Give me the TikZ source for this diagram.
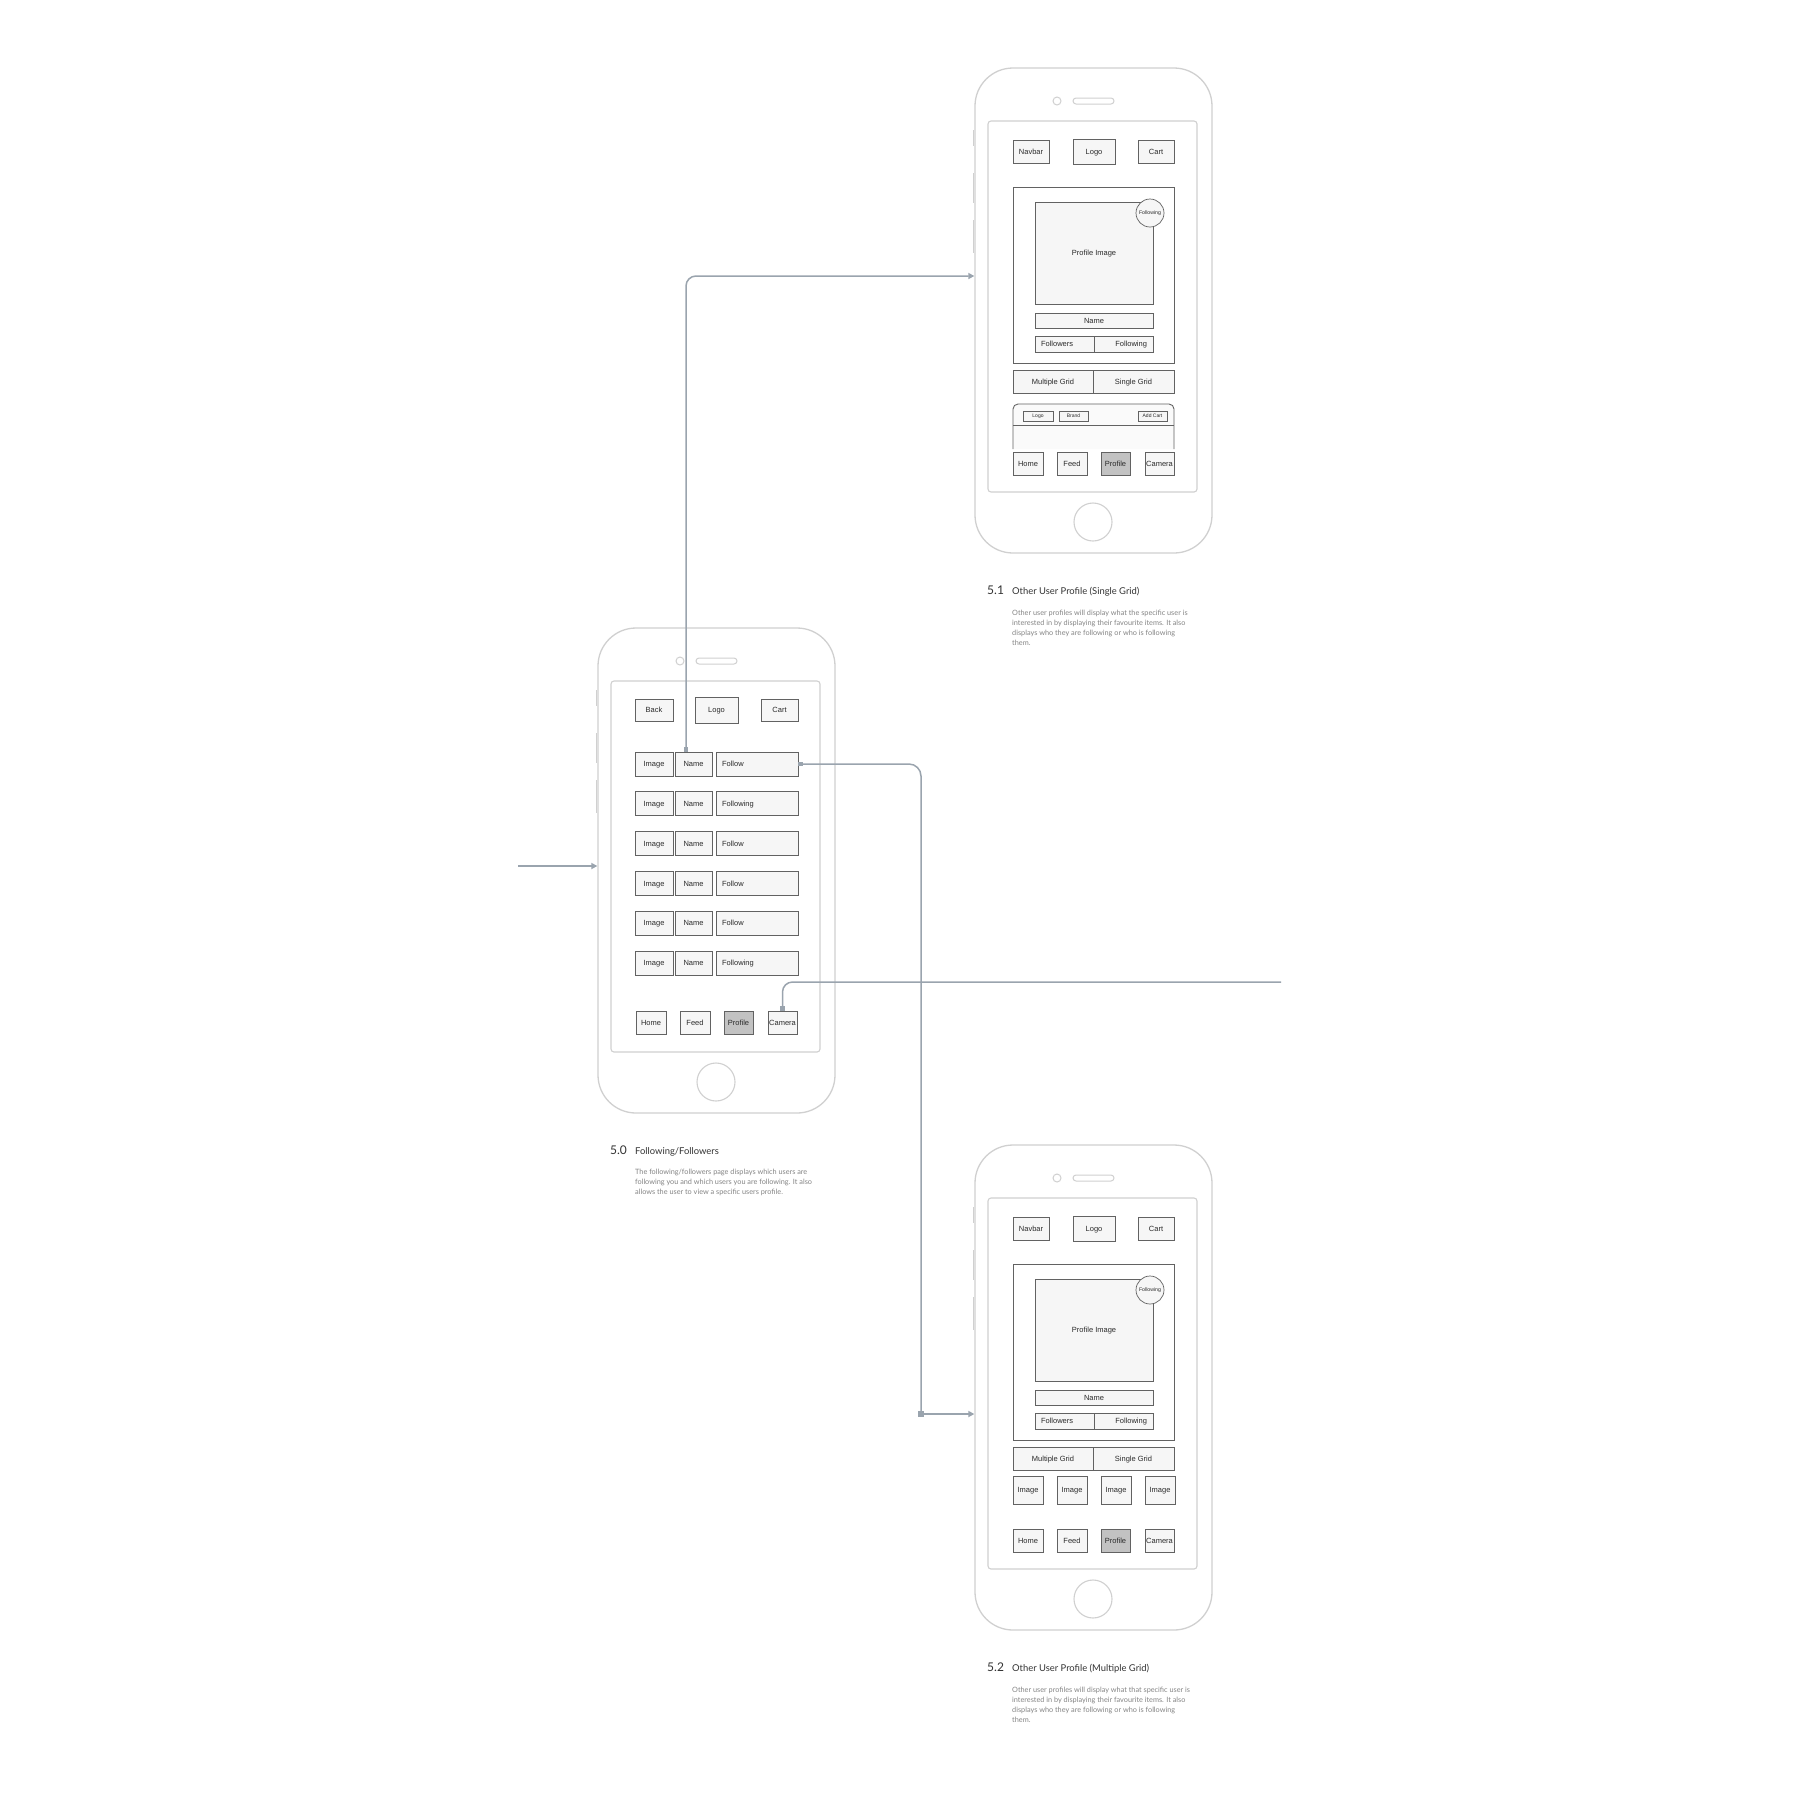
\documentclass[tikz,border=0pt]{standalone}
\usepackage{fontspec}
\setmainfont{Liberation Sans}
\newfontfamily\titlefont{Lato}
\usetikzlibrary{arrows.meta}
\definecolor{framec}{HTML}{D0D0D0}
\definecolor{boxline}{HTML}{626262}
\definecolor{boxfill}{HTML}{F6F6F6}
\definecolor{cardfill}{HTML}{FAFAFA}
\definecolor{tabsel}{HTML}{C2C2C2}
\definecolor{connc}{HTML}{9AA4AE}
\definecolor{descc}{HTML}{858585}
\definecolor{ttlc}{HTML}{333333}
\definecolor{txtc}{HTML}{2A2A2A}

\tikzset{
  wbox/.style={draw=boxline, fill=boxfill, line width=0.9pt, inner sep=0pt, rectangle,
    text=txtc, font=\fontsize{7.5}{9}\selectfont, text height=6pt, text depth=0.6pt},
  smallbox/.style={wbox, line width=0.7pt, font=\fontsize{5}{6}\selectfont, text height=4pt, text depth=0.3pt},
  phoneouter/.style={draw=framec, line width=1.3pt, rounded corners=38pt, minimum width=237pt, minimum height=485pt, inner sep=0pt},
  screenbox/.style={draw=framec, line width=1.1pt, rounded corners=3pt, minimum width=209pt, minimum height=371pt, inner sep=0pt},
  conn/.style={draw=connc, line width=1.5pt},
  sqmark/.style={fill=connc, minimum size=6pt, inner sep=0pt},
  ttlnum/.style={anchor=base west, inner sep=0pt, text=ttlc, font=\titlefont\fontsize{12}{14}\selectfont},
  ttltxt/.style={anchor=base west, inner sep=0pt, text=ttlc, font=\titlefont\fontsize{9.4}{11}\selectfont},
  desctxt/.style={anchor=north west, inner sep=0pt, align=left, text=descc, font=\titlefont\fontsize{7.3}{10}\selectfont},
}

% box from (x1,y1) to (x2,y2)
\newcommand\wfbox[7][]{%
  \pgfmathsetmacro\wfW{#5-#3}\pgfmathsetmacro\wfH{#6-#4}%
  \pgfmathsetmacro\wfX{(#3+#5)/2}\pgfmathsetmacro\wfY{(#4+#6)/2}%
  \node[wbox,minimum width=\wfW pt,minimum height=\wfH pt,#1] (#2) at (\wfX,\wfY) {#7};}
% aligned text box
\newcommand\wfboxa[7][left]{%
  \pgfmathsetmacro\wfW{#5-#3}\pgfmathsetmacro\wfH{#6-#4}\pgfmathsetmacro\wfT{#5-#3-12}%
  \pgfmathsetmacro\wfX{(#3+#5)/2}\pgfmathsetmacro\wfY{(#4+#6)/2}%
  \node[wbox,minimum width=\wfW pt,minimum height=\wfH pt,text width=\wfT pt,align=#1,inner xsep=6pt] (#2) at (\wfX,\wfY) {#7};}

\newcommand\phoneframe[1]{%
  \node[phoneouter] (#1-outer) at (1093.5,310.5) {};
  \node[screenbox] (#1-screen) at (1092.5,306.5) {};
  \node[draw=framec, line width=1pt, circle, minimum size=8pt, inner sep=0pt] (#1-cam) at (1057,101) {};
  \node[draw=framec, line width=1pt, rounded corners=3pt, minimum width=41pt, minimum height=6pt, inner sep=0pt] (#1-spk) at (1093.5,101) {};
  \node[draw=framec, line width=1.1pt, circle, minimum size=38pt, inner sep=0pt] (#1-home) at (1093,522) {};
  \draw[framec, line width=1.4pt] (973.6,130) -- (973.6,146) (973.6,173) -- (973.6,203) (973.6,220) -- (973.6,253);
}

\newcommand\tabbar[3]{%
  \wfbox{#1-thome}{1013}{#2}{1043}{#3}{Home}
  \wfbox{#1-tfeed}{1057}{#2}{1087}{#3}{Feed}
  \wfbox[fill=tabsel]{#1-tprof}{1101}{#2}{1130}{#3}{Profile}
  \wfbox{#1-tcam}{1145}{#2}{1174}{#3}{Camera}
}

\newcommand\profilecommon[1]{%
  \wfbox{#1-nav}{1013}{140}{1049}{163}{Navbar}
  \wfbox{#1-logo}{1073}{139}{1115}{164}{Logo}
  \wfbox{#1-cart}{1138}{140}{1174}{163}{Cart}
  \wfbox[fill=white]{#1-cont}{1013}{187}{1174}{363}{}
  \wfbox{#1-pimg}{1035}{202}{1153}{304}{Profile Image}
  \node[wbox, circle, minimum size=28pt, font=\fontsize{5.2}{6}\selectfont, text height=3.8pt, text depth=0.2pt, line width=0.7pt] (#1-folc) at (1150,213) {Following};
  \wfbox{#1-name}{1035}{313}{1153}{328}{Name}
  \wfboxa[left]{#1-fers}{1035}{336}{1094}{352}{Followers}
  \wfboxa[right]{#1-fing}{1094}{336}{1153}{352}{Following}
  \wfbox{#1-mg}{1013}{370}{1093}{393}{Multiple Grid}
  \wfbox{#1-sg}{1093}{370}{1174}{393}{Single Grid}
}

\begin{document}
\begin{tikzpicture}[x=1pt,y=-1pt]
\useasboundingbox (0,0) rectangle (1800,1800);
\fill[white] (0,0) rectangle (1800,1800);

% ---------- 5.1 ----------
\begin{scope}
  \phoneframe{p51}
  \profilecommon{p51}
  \draw[boxline, line width=0.9pt, fill=cardfill, rounded corners=5pt] (1013,449) -- (1013,404) -- (1174,404) -- (1174,449);
  \draw[boxline, line width=0.9pt] (1013,425) -- (1174,425);
  \wfbox[smallbox]{p51-clogo}{1023}{411}{1053}{421}{Logo}
  \wfbox[smallbox]{p51-cbrand}{1059}{411}{1088}{421}{Brand}
  \wfbox[smallbox]{p51-ccart}{1138}{411}{1167}{421}{Add Cart}
  \tabbar{p51}{452}{475}
\end{scope}

% ---------- 5.2 ----------
\begin{scope}[shift={(0,1077)}]
  \phoneframe{p52}
  \profilecommon{p52}
  \wfbox{p52-img1}{1013}{399}{1043}{427}{Image}
  \wfbox{p52-img2}{1057}{399}{1087}{427}{Image}
  \wfbox{p52-img3}{1101}{399}{1131}{427}{Image}
  \wfbox{p52-img4}{1145}{399}{1175}{427}{Image}
  \tabbar{p52}{452}{475}
\end{scope}

% ---------- 5.0 ----------
\begin{scope}[shift={(-377,560)}]
  \phoneframe{p50}
  \wfbox{p50-back}{1012}{139}{1050}{161}{Back}
  \wfbox{p50-logo}{1072}{137}{1115}{163}{Logo}
  \wfbox{p50-cart}{1138}{139}{1175}{161}{Cart}
  \foreach \i/\t in {1/Follow,2/Following,3/Follow,4/Follow,5/Follow,6/Following}{
    \pgfmathsetmacro\ra{192+(\i-1)*39.8}
    \pgfmathsetmacro\rb{\ra+24}
    \wfbox{p50-i\i}{1012}{\ra}{1050}{\rb}{Image}
    \wfbox{p50-n\i}{1052}{\ra}{1089}{\rb}{Name}
    \wfboxa[left]{p50-f\i}{1093}{\ra}{1175}{\rb}{\t}
  }
  \tabbar{p50}{451}{474}
\end{scope}

% ---------- titles ----------
\node[ttlnum] (n51) at (987,594.5) {5.1};
\node[ttltxt] (t51) at (1012,594) {Other User Profile (Single Grid)};
\node[desctxt] (d51) at (1012,610) {Other user profiles will display what the specific user is\\interested in by displaying their favourite items. It also\\displays who they are following or who is following\\them.};

\node[ttlnum] (n50) at (610,1154.5) {5.0};
\node[ttltxt] (t50) at (635,1154) {Following/Followers};
\node[desctxt] (d50) at (635,1169) {The following/followers page displays which users are\\following you and which users you are following. It also\\allows the user to view a specific users profile.};

\node[ttlnum] (n52) at (987,1671.5) {5.2};
\node[ttltxt] (t52) at (1012,1671) {Other User Profile (Multiple Grid)};
\node[desctxt] (d52) at (1012,1687) {Other user profiles will display what that specific user is\\interested in by displaying their favourite items. It also\\displays who they are following or who is following\\them.};

% ---------- connectors ----------
\coordinate (a51) at (975,276);
\coordinate (k2) at (921,1414);
\coordinate (s3) at (518,866);
\coordinate (e4) at (1281,982);

\draw[conn, {Square[length=4.5pt,width=4.5pt]}-{Triangle[length=6pt,width=6pt]}, rounded corners=10pt]
  ([xshift=-7.5pt]p50-n1.north) |- (p51-outer.west |- a51);
\draw[conn, {Square[length=4.5pt,width=4.5pt]}-, rounded corners=12pt] (p50-f1.east) -| (k2);
\node[sqmark] (m2) at (k2) {};
\draw[conn, -{Triangle[length=6pt,width=6pt]}] (m2.center) -- (p52-outer.west |- k2);
\draw[conn, -{Triangle[length=6pt,width=6pt]}] (s3) -- (p50-outer.west |- s3);
\draw[conn, {Square[length=4.5pt,width=4.5pt]}-, rounded corners=10pt] (p50-tcam.north) |- (e4);
\end{tikzpicture}
\end{document}
